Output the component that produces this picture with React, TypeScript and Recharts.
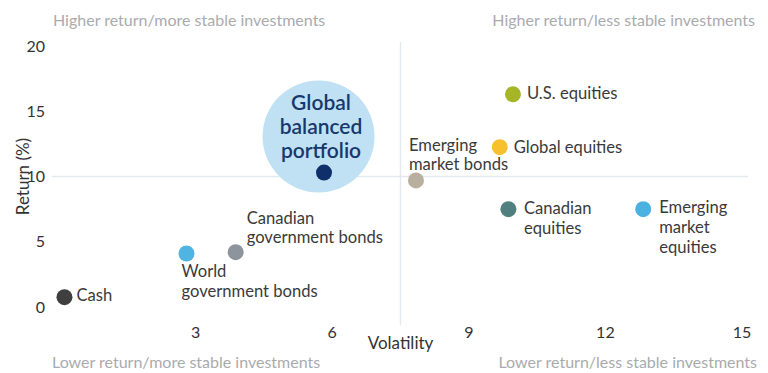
import { ScatterChart, Scatter, XAxis, YAxis, ReferenceLine, ReferenceDot, Label } from 'recharts'

const FONT = 'Lato, "Noto Sans", sans-serif'

const ASSETS = [
  'Cash',
  'World government bonds',
  'Canadian government bonds',
  'Global balanced portfolio',
  'Emerging market bonds',
  'Global equities',
  'U.S. equities',
  'Canadian equities',
  'Emerging market equities',
]
const VOLATILITY = [0.12, 2.8, 3.88, 5.82, 7.84, 9.68, 9.97, 9.87, 12.83]
const RETURNS = [0.75, 4.1, 4.2, 10.3, 9.7, 12.25, 16.3, 7.5, 7.5]
const LABEL_LINES = [
  ['Cash'],
  ['World', 'government bonds'],
  ['Canadian', 'government bonds'],
  ['Global', 'balanced', 'portfolio'],
  ['Emerging', 'market bonds'],
  ['Global equities'],
  ['U.S. equities'],
  ['Canadian', 'equities'],
  ['Emerging', 'market', 'equities'],
]
const COLORS = ['#3f3f3f', '#4fb4e2', '#8d949b', '#0f2f6b', '#b9af9f', '#f7c12e', '#a5b526', '#4f7f7e', '#4ab1e1']

const X_TICKS = [3, 6, 9, 12, 15]
const Y_TICKS = [0, 5, 10, 15, 20]

// balanced portfolio halo
const HALO = { x: 5.7, y: 13.07 }

const CORNERS = {
  topLeft: 'Higher return/more stable investments',
  topRight: 'Higher return/less stable investments',
  bottomLeft: 'Lower return/more stable investments',
  bottomRight: 'Lower return/less stable investments',
}

// label offsets relative to each dot (px)
const LABEL_LAYOUT = [
  { dx: 12, dy: -2, lh: 19, anchor: 'start' },
  { dx: -5, dy: 18, lh: 19.5, anchor: 'start' },
  { dx: 11, dy: -34.5, lh: 19, anchor: 'start' },
  { dx: -3, dy: -71.5, lh: 24, anchor: 'middle' },
  { dx: -7, dy: -35.7, lh: 19.3, anchor: 'start' },
  { dx: 14, dy: -0.5, lh: 19, anchor: 'start' },
  { dx: 14, dy: -1.5, lh: 19, anchor: 'start' },
  { dx: 15.5, dy: -0.7, lh: 20, anchor: 'start' },
  { dx: 16, dy: -1.7, lh: 19.7, anchor: 'start' },
]

const points = ASSETS.map((name, i) => ({ name, volatility: VOLATILITY[i], ret: RETURNS[i] }))

const AssetDot = (props: any) => {
  const { cx, cy, payload } = props
  const i = ASSETS.indexOf(payload.name)
  const lay = LABEL_LAYOUT[i]
  const isPortfolio = i === 3
  return (
    <g>
      <circle cx={cx} cy={cy} r={8} fill={COLORS[i]} />
      {LABEL_LINES[i].map((line, j) => (
        <text
          key={j}
          x={cx + lay.dx}
          y={cy + lay.dy + j * lay.lh}
          textAnchor={lay.anchor}
          dominantBaseline="central"
          fontSize={isPortfolio ? 21 : 16.6}
          fontWeight={isPortfolio ? 600 : 400}
          fill={isPortfolio ? '#17386e' : '#3a3a3a'}
        >
          {line}
        </text>
      ))}
    </g>
  )
}

const cornerStyle = {
  position: 'absolute' as const,
  fontSize: 16,
  color: '#a9abae',
  whiteSpace: 'nowrap' as const,
  lineHeight: '20px',
}

export default function App() {
  return (
    <div style={{ position: 'absolute', left: 0, top: 0, width: 768, height: 373, fontFamily: FONT, background: '#fff' }}>
      <ScatterChart width={768} height={373} margin={{ top: 46, right: 26, bottom: 16, left: 0 }}>
        <XAxis
          type="number"
          dataKey="volatility"
          domain={[0, 15]}
          ticks={X_TICKS}
          axisLine={false}
          tickLine={false}
          tickSize={0}
          tickMargin={20}
          height={50}
          tick={{ fontSize: 16, fill: '#333' }}
        >
          <Label value="Volatility" position="insideBottom" offset={8} fontSize={17} fill="#333" />
        </XAxis>
        <YAxis
          type="number"
          dataKey="ret"
          domain={[0, 20]}
          ticks={Y_TICKS}
          axisLine={false}
          tickLine={false}
          tickSize={0}
          tickMargin={14}
          width={59}
          tick={{ fontSize: 16, fill: '#333' }}
        >
          <Label
            content={(p: any) => {
              const vb = p.viewBox
              const x = vb.x + 22
              const y = vb.y + vb.height / 2
              return (
                <text x={x} y={y} transform={`rotate(-90, ${x}, ${y})`} textAnchor="middle" dominantBaseline="central" fontSize={17} fill="#333">
                  Return (%)
                </text>
              )
            }}
          />
        </YAxis>
        <ReferenceLine
          segment={[{ x: -0.16, y: 10 }, { x: 15.13, y: 10 }]}
          ifOverflow="visible"
          stroke="#e4e9ef"
          strokeWidth={1.5}
        />
        <ReferenceLine
          segment={[{ x: 7.5, y: -1.4 }, { x: 7.5, y: 20.3 }]}
          ifOverflow="visible"
          stroke="#e4e9ef"
          strokeWidth={1.5}
        />
        <ReferenceDot x={HALO.x} y={HALO.y} r={56} fill="#bfe1f3" stroke="none" ifOverflow="visible" />
        <Scatter data={points} shape={AssetDot} isAnimationActive={false} />
      </ScatterChart>
      <div style={{ ...cornerStyle, left: 53, top: 10 }}>{CORNERS.topLeft}</div>
      <div style={{ ...cornerStyle, right: 13, top: 10 }}>{CORNERS.topRight}</div>
      <div style={{ ...cornerStyle, left: 52, top: 352 }}>{CORNERS.bottomLeft}</div>
      <div style={{ ...cornerStyle, right: 11, top: 352 }}>{CORNERS.bottomRight}</div>
    </div>
  )
}
